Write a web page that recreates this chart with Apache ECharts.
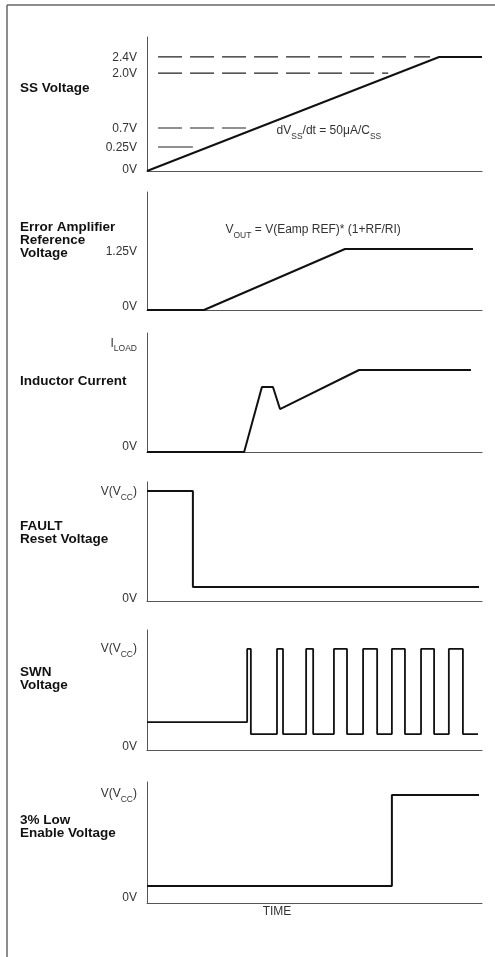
<!DOCTYPE html>
<html><head><meta charset="utf-8">
<script src="https://cdn.jsdelivr.net/npm/echarts@6/dist/echarts.min.js"></script>
<style>html,body{margin:0;padding:0;background:#fff}#c{width:495px;height:957px}</style>
</head><body><div id="c"></div>
<script>
// ---- panel titles ----
const panelTitles = ['SS Voltage', 'Error Amplifier\nReference\nVoltage', 'Inductor Current',
  'FAULT\nReset Voltage', 'SWN\nVoltage', '3% Low\nEnable Voltage'];

// ---- tick labels (schematic levels, as fraction of each panel's y range 0..1) ----
const ssTickLabels = ['0V', '0.25V', '0.7V', '2.0V', '2.4V'];
const ssTickLevels = [0.02, 0.179, 0.321, 0.731, 0.851];
const eaTickLabels = ['0V', '1.25V'];
const eaTickLevels = [0.04, 0.50];
const icTickLabels = ['0V', 'ILOAD'];
const icTickLevels = [0.05, 0.92];
const faultTickLabels = ['0V', 'VVCC'];
const faultTickLevels = [0.03, 0.924];
const swTickLabels = ['0V', 'VVCC'];
const swTickLevels = [0.04, 0.85];
const enTickLabels = ['0V', 'VVCC'];
const enTickLevels = [0.05, 0.91];

// ---- SS voltage ----
const ssT = [0, 87.2, 100];
const ssV = [0, 0.851, 0.851];
const ssGuideLevels = [0.851, 0.731, 0.321];
const ssGuideStart = 3.3;
const ssGuideEnds = [84.5, 72, 29.9];
const ssRefLevel = 0.179;
const ssRefEnd = 13.7;

// ---- Error amplifier reference ----
const eaT = [0, 17.0, 59.1, 97.3];
const eaV = [0, 0, 0.517, 0.517];

// ---- Inductor current ----
const icT = [0, 29.0, 34.3, 37.6, 39.7, 63.3, 96.7];
const icV = [0, 0, 0.546, 0.546, 0.361, 0.689, 0.689];

// ---- FAULT reset ----
const faultT = [0, 13.7, 13.7, 99.1];
const faultV = [0.924, 0.924, 0.118, 0.118];

// ---- SWN ----
const swT = [0, 29.9, 29.9, 31.0, 31.0, 38.8, 38.8, 40.6, 40.6, 47.5, 47.5, 49.6, 49.6, 55.8, 55.8, 59.7, 59.7,
  64.5, 64.5, 68.7, 68.7, 73.1, 73.1, 77.0, 77.0, 81.8, 81.8, 85.7, 85.7, 90.1, 90.1, 94.3, 94.3, 98.8];
const swV = [0.233, 0.233, 0.842, 0.842, 0.133, 0.133, 0.842, 0.842, 0.133, 0.133, 0.842, 0.842, 0.133, 0.133,
  0.842, 0.842, 0.133, 0.133, 0.842, 0.842, 0.133, 0.133, 0.842, 0.842, 0.133, 0.133, 0.842, 0.842, 0.133, 0.133,
  0.842, 0.842, 0.133, 0.133];

// ---- 3% low enable ----
const enT = [0, 73.1, 73.1, 99.1];
const enV = [0.14, 0.14, 0.893, 0.893];

// ---- annotations ----
const ssNote = { t: 54.3, v: 0.306 };
const eaNote = { t: 49.6, v: 0.686 };

const zip = (a, b) => a.map((x, i) => [x, b[i]]);
const FONT = '"Liberation Sans", Arial, Helvetica, sans-serif';

const grids = [
  { top: 37, height: 134 }, { top: 192, height: 118 }, { top: 333, height: 119 },
  { top: 482, height: 119 }, { top: 630, height: 120 }, { top: 782, height: 121 }
].map(g => Object.assign({ left: 147, right: 13 }, g));

const subRich = {
  n: { fontSize: 12, color: '#333', fontFamily: FONT, lineHeight: 14, verticalAlign: 'bottom' },
  s: { fontSize: 8.5, color: '#333', fontFamily: FONT, lineHeight: 14, verticalAlign: 'bottom', padding: [0, 0, -4, 0] }
};
function tickText(label) {
  if (label === 'ILOAD') return '{n|I}{s|LOAD}';
  if (label === 'VVCC') return '{n|V(V}{s|CC}{n|)}';
  return '{n|' + label + '}';
}
const tickSets = [
  [ssTickLabels, ssTickLevels], [eaTickLabels, eaTickLevels], [icTickLabels, icTickLevels],
  [faultTickLabels, faultTickLevels], [swTickLabels, swTickLevels], [enTickLabels, enTickLevels]
];

const xAxes = grids.map((g, i) => ({
  gridIndex: i, type: 'value', min: 0, max: 100,
  axisLine: { show: true, lineStyle: { color: '#555', width: 1 } },
  axisTick: { show: false }, axisLabel: { show: false }, splitLine: { show: false }
}));
const yAxes = tickSets.map(([labels, levels], i) => ({
  gridIndex: i, type: 'value', min: 0, max: 1,
  axisLine: { show: true, lineStyle: { color: '#555', width: 1 } },
  axisTick: { show: false }, splitLine: { show: false },
  axisLabel: {
    show: true, customValues: levels, margin: 10, rich: subRich,
    formatter: v => {
      const k = levels.findIndex(l => Math.abs(l - v) < 1e-6);
      return k >= 0 ? tickText(labels[k]) : '';
    }
  }
}));

const black = { color: '#111', width: 2 };
function sig(i, t, v, extra) {
  return Object.assign({
    type: 'line', xAxisIndex: i, yAxisIndex: i, data: zip(t, v), symbol: 'none',
    lineStyle: black, silent: true, z: 3
  }, extra || {});
}
const noteRich = {
  n: { fontSize: 12, color: '#333', fontFamily: FONT, lineHeight: 14, verticalAlign: 'bottom' },
  s: { fontSize: 8.5, color: '#333', fontFamily: FONT, lineHeight: 14, verticalAlign: 'bottom', padding: [0, 0, -4, 0] }
};
function note(t, v, text) {
  return {
    symbol: 'circle', symbolSize: 1, itemStyle: { color: 'rgba(0,0,0,0)' }, silent: true,
    data: [{ coord: [t, v], label: { show: true, position: 'inside', formatter: text, rich: noteRich } }]
  };
}

const series = [];
ssGuideLevels.forEach((lv, k) => {
  series.push({
    type: 'line', xAxisIndex: 0, yAxisIndex: 0, symbol: 'none', silent: true, z: 2,
    data: [[ssGuideStart, lv], [ssGuideEnds[k], lv]],
    lineStyle: { color: '#222', width: 1.2, type: [24, 8] }
  });
});
series.push({
  type: 'line', xAxisIndex: 0, yAxisIndex: 0, symbol: 'none', silent: true, z: 2,
  data: [[ssGuideStart, ssRefLevel], [ssRefEnd, ssRefLevel]],
  lineStyle: { color: '#222', width: 1.2 }
});
series.push(sig(0, ssT, ssV, { markPoint: note(ssNote.t, ssNote.v, '{n|dV}{s|SS}{n|/dt = 50\u03bcA/C}{s|SS}') }));
series.push(sig(1, eaT, eaV, { markPoint: note(eaNote.t, eaNote.v, '{n|V}{s|OUT}{n| = V(Eamp REF)* (1+RF/RI)}') }));
series.push(sig(2, icT, icV));
series.push(sig(3, faultT, faultV));
series.push(sig(4, swT, swV, { lineStyle: { color: '#111', width: 1.8 } }));
series.push(sig(5, enT, enV));

const titleTops = [81.5, 220.5, 374.5, 519.5, 665.5, 813.5];
const titles = panelTitles.map((txt, i) => ({
  text: txt, left: 20, top: titleTops[i], padding: 0,
  textStyle: { fontFamily: FONT, fontSize: 13.5, fontWeight: 'bold', color: '#111', lineHeight: 13 }
}));
titles.push({
  text: 'TIME', left: 277, top: 906, padding: 0, textAlign: 'center',
  textStyle: { fontFamily: FONT, fontSize: 12, fontWeight: 'normal', color: '#333' }
});

const chart = echarts.init(document.getElementById('c'), null, { renderer: 'canvas' });
chart.setOption({
  animation: false,
  backgroundColor: '#fff',
  title: titles,
  grid: grids,
  xAxis: xAxes,
  yAxis: yAxes,
  series: series,
  graphic: [
    { type: 'line', shape: { x1: 7, y1: 5, x2: 495, y2: 5 }, style: { stroke: '#666', lineWidth: 1.5 }, silent: true },
    { type: 'line', shape: { x1: 7, y1: 5, x2: 7, y2: 957 }, style: { stroke: '#666', lineWidth: 1.5 }, silent: true }
  ]
});
</script></body></html>
